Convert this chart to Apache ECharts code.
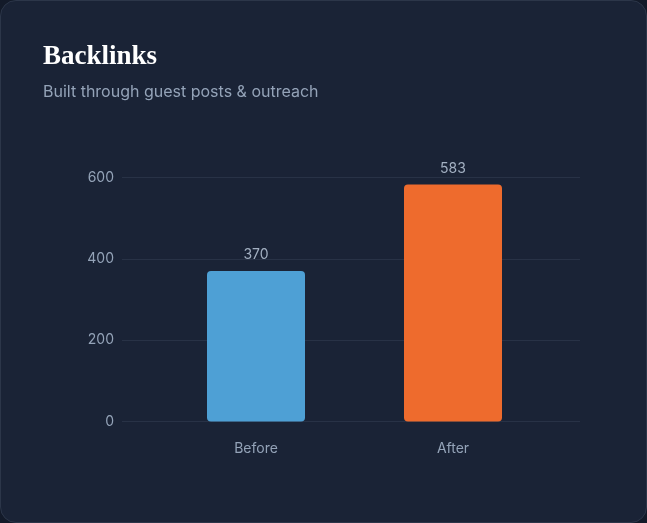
<!DOCTYPE html>
<html>
<head>
<meta charset="utf-8">
<script src="https://cdn.jsdelivr.net/npm/echarts@6/dist/echarts.min.js"></script>
<style>
  html, body { margin: 0; padding: 0; background: #131a29; }
  #card {
    position: absolute; left: 0; top: 0;
    width: 645px; height: 521px;
    background: #1a2336;
    border: 1px solid #2c3649;
    border-radius: 16px;
    overflow: hidden;
  }
  #main { width: 645px; height: 521px; }
</style>
</head>
<body>
<div id="card"><div id="main"></div></div>
<script>
// chart data
var categories = ['Before', 'After'];
var values = [370, 583];
var colors = ['#4ea0d5', '#ee6b2d'];
var yTicks = {min: 0, max: 600, interval: 200};

var myChart = echarts.init(document.getElementById('main'));

var axisText = '#94a3b8';
var gridColor = '#283246';

var option = {
  animation: false,
  title: [
    {
      text: 'Backlinks',
      left: 37,
      top: 38,
      textStyle: {
        color: '#ffffff',
        fontFamily: 'Liberation Serif',
        fontWeight: 'bold',
        fontSize: 27
      }
    },
    {
      text: 'Built through guest posts & outreach',
      left: 37,
      top: 78,
      textStyle: {
        color: '#94a3b8',
        fontFamily: 'Inter',
        fontWeight: 'normal',
        fontSize: 16
      }
    }
  ],
  grid: [
    // grid lines + y labels
    {left: 121, right: 66, top: 176.5, bottom: 100.5},
    // bars
    {left: 156.5, right: 94.5, top: 176.5, bottom: 100.5}
  ],
  xAxis: [
    {gridIndex: 0, type: 'value', show: false},
    {
      gridIndex: 1,
      type: 'category',
      data: categories,
      axisLine: {show: false},
      axisTick: {show: false},
      axisLabel: {
        color: axisText,
        fontFamily: 'Inter',
        fontSize: 14,
        margin: 20
      }
    }
  ],
  yAxis: [
    {
      gridIndex: 0,
      type: 'value',
      min: yTicks.min,
      max: yTicks.max,
      interval: yTicks.interval,
      axisLine: {show: false},
      axisTick: {show: false},
      axisLabel: {
        color: axisText,
        fontFamily: 'Inter',
        fontSize: 14,
        margin: 8
      },
      splitLine: {lineStyle: {color: gridColor, width: 1}}
    },
    {
      gridIndex: 1,
      type: 'value',
      min: yTicks.min,
      max: yTicks.max,
      interval: yTicks.interval,
      show: false
    }
  ],
  series: [
    {
      type: 'bar',
      xAxisIndex: 1,
      yAxisIndex: 1,
      barWidth: 98,
      data: values.map(function (v, i) {
        return {value: v, itemStyle: {color: colors[i]}};
      }),
      itemStyle: {borderRadius: 4},
      label: {
        show: true,
        position: 'top',
        distance: 9,
        color: '#a3b0c2',
        fontFamily: 'Inter',
        fontSize: 14
      }
    }
  ]
};

myChart.setOption(option);
</script>
</body>
</html>
